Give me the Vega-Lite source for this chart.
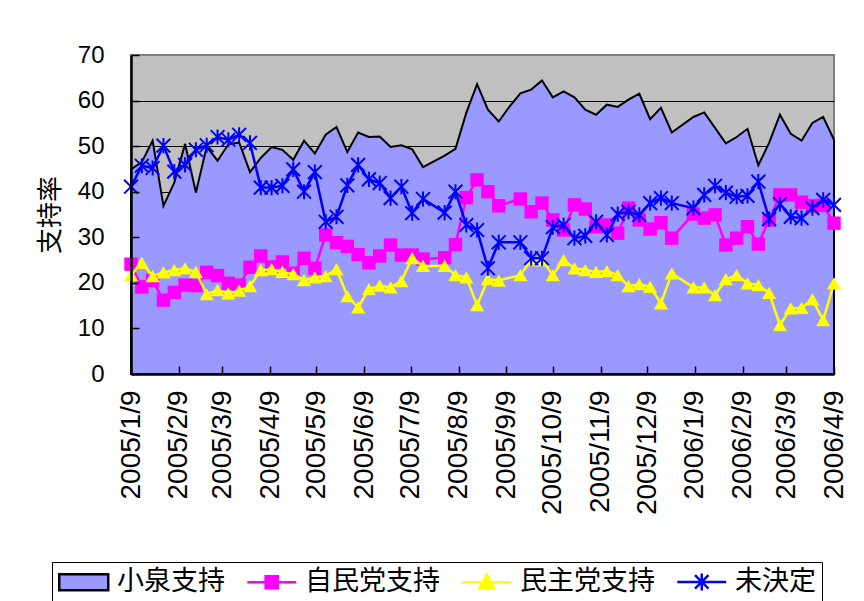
{
  "$schema": "https://vega.github.io/schema/vega-lite/v6.json",
  "width": 703,
  "height": 319,
  "autosize": "none",
  "padding": {"left": 131, "top": 55, "right": 30, "bottom": 227},
  "background": "white",
  "config": {
    "view": {"fill": "#C0C0C0", "stroke": "#808080", "strokeWidth": 2},
    "font": "Liberation Sans",
    "axisY": {
      "titleFont": "Noto Sans CJK JP",
      "titleFontSize": 26,
      "titleFontWeight": "normal",
      "titleColor": "black",
      "titlePadding": 14,
      "labelFont": "Liberation Sans",
      "labelFontSize": 24,
      "labelColor": "black",
      "labelPadding": 35,
      "labelFlush": false,
      "tickSize": -8,
      "tickColor": "black",
      "tickWidth": 1.5,
      "domainColor": "black",
      "domainWidth": 2.5
    },
    "legend": {
      "orient": "none",
      "legendX": -79,
      "legendY": 507,
      "direction": "horizontal",
      "columns": 4,
      "labelFont": "Noto Sans CJK JP",
      "labelFontSize": 27,
      "labelColor": "black",
      "labelOffset": 32,
      "columnPadding": 17,
      "symbolSize": 600,
      "symbolStrokeWidth": 2.5,
      "symbolOpacity": 1,
      "strokeColor": "black",
      "padding": 6
    }
  },
  "data": {
    "values": [
      {"date": "2005-01-09", "小泉支持": 44.9, "自民党支持": 24.1, "民主党支持": 21.7, "未決定": 41.1},
      {"date": "2005-01-16", "小泉支持": 46.5, "自民党支持": 19.1, "民主党支持": 24.4, "未決定": 45.7},
      {"date": "2005-01-23", "小泉支持": 51.2, "自民党支持": 20.5, "民主党支持": 21.5, "未決定": 45.2},
      {"date": "2005-01-30", "小泉支持": 36.9, "自民党支持": 16.2, "民主党支持": 22.3, "未決定": 50.1},
      {"date": "2005-02-06", "小泉支持": 42.0, "自民党支持": 17.9, "民主党支持": 22.8, "未決定": 44.4},
      {"date": "2005-02-13", "小泉支持": 50.5, "自民党支持": 19.5, "民主党支持": 23.2, "未決定": 45.9},
      {"date": "2005-02-20", "小泉支持": 39.8, "自民党支持": 19.4, "民主党支持": 22.4, "未決定": 49.2},
      {"date": "2005-02-27", "小泉支持": 49.9, "自民党支持": 22.3, "民主党支持": 17.5, "未決定": 50.2},
      {"date": "2005-03-06", "小泉支持": 46.8, "自民党支持": 21.6, "民主党支持": 18.4, "未決定": 52.0},
      {"date": "2005-03-13", "小泉支持": 50.4, "自民党支持": 19.9, "民主党支持": 17.7, "未決定": 51.4},
      {"date": "2005-03-20", "小泉支持": 50.8, "自民党支持": 19.5, "民主党支持": 18.3, "未決定": 52.5},
      {"date": "2005-03-27", "小泉支持": 44.3, "自民党支持": 23.4, "民主党支持": 19.3, "未決定": 50.7},
      {"date": "2005-04-03", "小泉支持": 47.4, "自民党支持": 25.9, "民主党支持": 22.8, "未決定": 40.9},
      {"date": "2005-04-10", "小泉支持": 49.8, "自民党支持": 23.5, "民主党支持": 23.0, "未決定": 40.9},
      {"date": "2005-04-17", "小泉支持": 49.2, "自民党支持": 24.6, "民主党支持": 22.4, "未決定": 41.3},
      {"date": "2005-04-24", "小泉支持": 47.0, "自民党支持": 22.1, "民主党支持": 21.9, "未決定": 44.9},
      {"date": "2005-05-01", "小泉支持": 51.2, "自民党支持": 25.4, "民主党支持": 20.6, "未決定": 40.0},
      {"date": "2005-05-08", "小泉支持": 48.4, "自民党支持": 23.2, "民主党支持": 21.2, "未決定": 44.3},
      {"date": "2005-05-15", "小泉支持": 52.5, "自民党支持": 30.5, "民主党支持": 21.5, "未決定": 33.4},
      {"date": "2005-05-22", "小泉支持": 54.2, "自民党支持": 28.8, "民主党支持": 23.0, "未決定": 34.5},
      {"date": "2005-05-29", "小泉支持": 48.7, "自民党支持": 28.0, "民主党支持": 17.1, "未決定": 41.4},
      {"date": "2005-06-05", "小泉支持": 53.0, "自民党支持": 26.2, "民主党支持": 14.6, "未決定": 45.9},
      {"date": "2005-06-12", "小泉支持": 52.0, "自民党支持": 24.4, "民主党支持": 18.6, "未決定": 42.7},
      {"date": "2005-06-19", "小泉支持": 52.1, "自民党支持": 25.9, "民主党支持": 19.4, "未決定": 41.9},
      {"date": "2005-06-26", "小泉支持": 49.8, "自民党支持": 28.3, "民主党支持": 19.0, "未決定": 38.6},
      {"date": "2005-07-03", "小泉支持": 50.2, "自民党支持": 26.1, "民主党支持": 20.4, "未決定": 41.1},
      {"date": "2005-07-10", "小泉支持": 49.3, "自民党支持": 26.1, "民主党支持": 25.4, "未決定": 35.3},
      {"date": "2005-07-17", "小泉支持": 45.4, "自民党支持": 25.2, "民主党支持": 23.7, "未決定": 38.4},
      {"date": "2005-07-31", "小泉支持": 47.9, "自民党支持": 25.5, "民主党支持": 23.7, "未決定": 35.4},
      {"date": "2005-08-07", "小泉支持": 49.4, "自民党支持": 28.4, "民主党支持": 21.7, "未決定": 40.0},
      {"date": "2005-08-14", "小泉支持": 57.3, "自民党支持": 38.7, "民主党支持": 21.2, "未決定": 32.7},
      {"date": "2005-08-21", "小泉支持": 63.6, "自民党支持": 42.6, "民主党支持": 15.1, "未決定": 31.6},
      {"date": "2005-08-28", "小泉支持": 58.0, "自民党支持": 40.0, "民主党支持": 20.8, "未決定": 23.2},
      {"date": "2005-09-04", "小泉支持": 55.4, "自民党支持": 36.9, "民主党支持": 20.5, "未決定": 28.9},
      {"date": "2005-09-11", "小泉支持": 58.7, "自民党支持": null, "民主党支持": null, "未決定": null},
      {"date": "2005-09-18", "小泉支持": 61.6, "自民党支持": 38.4, "民主党支持": 21.7, "未決定": 28.9},
      {"date": "2005-09-25", "小泉支持": 62.4, "自民党支持": 35.6, "民主党支持": 25.0, "未決定": 25.4},
      {"date": "2005-10-02", "小泉支持": 64.4, "自民党支持": 37.5, "民主党支持": 25.0, "未決定": 25.4},
      {"date": "2005-10-09", "小泉支持": 60.7, "自民党支持": 33.8, "民主党支持": 21.7, "未決定": 32.2},
      {"date": "2005-10-16", "小泉支持": 62.0, "自民党支持": 31.6, "民主党支持": 25.0, "未決定": 32.7},
      {"date": "2005-10-23", "小泉支持": 60.7, "自民党支持": 37.1, "民主党支持": 23.2, "未決定": 29.8},
      {"date": "2005-10-30", "小泉支持": 58.0, "自民党支持": 36.2, "民主党支持": 22.8, "未決定": 30.3},
      {"date": "2005-11-06", "小泉支持": 56.9, "自民党支持": 32.3, "民主党支持": 22.4, "未決定": 33.4},
      {"date": "2005-11-13", "小泉支持": 59.1, "自民党支持": 32.7, "民主党支持": 22.6, "未決定": 30.5},
      {"date": "2005-11-20", "小泉支持": 58.6, "自民党支持": 30.9, "民主党支持": 21.7, "未決定": 35.1},
      {"date": "2005-11-27", "小泉支持": 60.2, "自民党支持": 36.4, "民主党支持": 19.3, "未決定": 35.6},
      {"date": "2005-12-04", "小泉支持": 61.5, "自民党支持": 33.8, "民主党支持": 19.7, "未決定": 34.9},
      {"date": "2005-12-11", "小泉支持": 55.9, "自民党支持": 31.8, "民主党支持": 19.1, "未決定": 37.5},
      {"date": "2005-12-18", "小泉支持": 58.4, "自民党支持": 33.2, "民主党支持": 15.5, "未決定": 38.6},
      {"date": "2005-12-25", "小泉支持": 53.0, "自民党支持": 29.8, "民主党支持": 22.1, "未決定": 37.5},
      {"date": "2006-01-08", "小泉支持": 56.4, "自民党支持": 35.1, "民主党支持": 19.0, "未決定": 36.4},
      {"date": "2006-01-15", "小泉支持": 57.4, "自民党支持": 34.2, "民主党支持": 19.0, "未決定": 39.3},
      {"date": "2006-01-22", "小泉支持": 54.0, "自民党支持": 34.9, "民主党支持": 17.3, "未決定": 41.3},
      {"date": "2006-01-29", "小泉支持": 50.6, "自民党支持": 28.3, "民主党支持": 20.8, "未決定": 39.8},
      {"date": "2006-02-05", "小泉支持": 52.0, "自民党支持": 29.8, "民主党支持": 21.7, "未決定": 38.9},
      {"date": "2006-02-12", "小泉支持": 53.8, "自民党支持": 32.3, "民主党支持": 19.9, "未決定": 39.1},
      {"date": "2006-02-19", "小泉支持": 45.8, "自民党支持": 28.5, "民主党支持": 19.5, "未決定": 42.2},
      {"date": "2006-02-26", "小泉支持": 50.7, "自民党支持": 33.8, "民主党支持": 17.8, "未決定": 34.0},
      {"date": "2006-03-05", "小泉支持": 56.9, "自民党支持": 39.3, "民主党支持": 10.7, "未決定": 37.3},
      {"date": "2006-03-12", "小泉支持": 52.7, "自民党支持": 39.3, "民主党支持": 14.4, "未決定": 34.5},
      {"date": "2006-03-19", "小泉支持": 51.2, "自民党支持": 37.7, "民主党支持": 14.5, "未決定": 34.2},
      {"date": "2006-03-26", "小泉支持": 55.1, "自民党支持": 36.9, "民主党支持": 16.4, "未決定": 36.4},
      {"date": "2006-04-02", "小泉支持": 56.4, "自民党支持": 37.0, "民主党支持": 11.8, "未決定": 38.2},
      {"date": "2006-04-09", "小泉支持": 51.4, "自民党支持": 33.1, "民主党支持": 19.9, "未決定": 37.1}
    ]
  },
  "transform": [
    {"fold": ["小泉支持", "自民党支持", "民主党支持", "未決定"], "as": ["series", "value"]},
    {"filter": "isValid(datum.value)"}
  ],
  "layer": [
    {
      "transform": [{"filter": "datum.series === '小泉支持'"}],
      "mark": {"type": "area", "color": "#9999FF", "stroke": "black", "strokeWidth": 2, "fillOpacity": 1},
      "encoding": {
        "x": {
          "field": "date", "type": "temporal",
          "scale": {"type": "utc", "domain": [{"year": 2005, "month": 1, "date": 9, "utc": true}, {"year": 2006, "month": 4, "date": 9, "utc": true}]},
          "axis": {
            "values": [
              {"year": 2005, "month": 1, "date": 9, "utc": true},
              {"year": 2005, "month": 2, "date": 9, "utc": true},
              {"year": 2005, "month": 3, "date": 9, "utc": true},
              {"year": 2005, "month": 4, "date": 9, "utc": true},
              {"year": 2005, "month": 5, "date": 9, "utc": true},
              {"year": 2005, "month": 6, "date": 9, "utc": true},
              {"year": 2005, "month": 7, "date": 9, "utc": true},
              {"year": 2005, "month": 8, "date": 9, "utc": true},
              {"year": 2005, "month": 9, "date": 9, "utc": true},
              {"year": 2005, "month": 10, "date": 9, "utc": true},
              {"year": 2005, "month": 11, "date": 9, "utc": true},
              {"year": 2005, "month": 12, "date": 9, "utc": true},
              {"year": 2006, "month": 1, "date": 9, "utc": true},
              {"year": 2006, "month": 2, "date": 9, "utc": true},
              {"year": 2006, "month": 3, "date": 9, "utc": true},
              {"year": 2006, "month": 4, "date": 9, "utc": true}
            ],
            "format": "%Y/%-m/%-d",
            "labelAngle": -90,
            "labelFontSize": 28,
            "labelFont": "Liberation Sans",
            "labelColor": "black",
            "labelPadding": 24,
            "labelFlush": false,
            "labelOverlap": false,
            "title": null,
            "grid": false,
            "domainColor": "black",
            "domainWidth": 2.5,
            "tickColor": "black",
            "tickWidth": 1.5,
            "tickSize": -8,
            "zindex": 1
          }
        },
        "y": {
          "field": "value", "type": "quantitative",
          "scale": {"domain": [0, 70], "nice": false},
          "axis": {
            "orient": "left",
            "grid": true,
            "gridColor": "black",
            "gridWidth": 1,
            "values": [10, 20, 30, 40, 50, 60],
            "labels": false,
            "ticks": false,
            "domain": false,
            "title": null,
            "zindex": 0
          }
        }
      }
    },
    {
      "transform": [{"filter": "datum.series === '自民党支持'"}],
      "mark": {"type": "line", "color": "#FF00FF", "strokeWidth": 2.5, "point": {"shape": "square", "size": 180, "filled": true, "color": "#FF00FF", "opacity": 1}},
      "encoding": {
        "x": {"field": "date", "type": "temporal"},
        "y": {
          "field": "value", "type": "quantitative",
          "axis": {
            "orient": "left",
            "values": [0, 10, 20, 30, 40, 50, 60, 70],
            "grid": false,
            "zindex": 1,
            "title": "支持率"
          }
        }
      }
    },
    {
      "transform": [{"filter": "datum.series === '民主党支持'"}],
      "mark": {"type": "line", "color": "#FFFF00", "strokeWidth": 2.5, "point": {"shape": "triangle-up", "size": 200, "filled": true, "color": "#FFFF00", "opacity": 1}},
      "encoding": {
        "x": {"field": "date", "type": "temporal"},
        "y": {"field": "value", "type": "quantitative", "axis": null}
      }
    },
    {
      "transform": [{"filter": "datum.series === '未決定'"}],
      "mark": {"type": "line", "color": "#0000FF", "strokeWidth": 2.5, "point": {"shape": "M-1,-1L1,1M1,-1L-1,1M0,-1.1V1.1", "size": 190, "filled": false, "color": "#0000FF", "strokeWidth": 2, "opacity": 1}},
      "encoding": {
        "x": {"field": "date", "type": "temporal"},
        "y": {"field": "value", "type": "quantitative", "axis": null}
      }
    },
    {
      "transform": [{"filter": "false"}],
      "mark": {"type": "point", "filled": true, "opacity": 1},
      "encoding": {
        "x": {"field": "date", "type": "temporal"},
        "y": {"field": "value", "type": "quantitative", "axis": null},
        "fill": {
          "field": "series", "type": "nominal",
          "scale": {"domain": ["小泉支持", "自民党支持", "民主党支持", "未決定"], "range": ["#9999FF", "#FF00FF", "#FFFF00", "#0000FF"]},
          "legend": {"title": null}
        },
        "stroke": {
          "field": "series", "type": "nominal",
          "scale": {"domain": ["小泉支持", "自民党支持", "民主党支持", "未決定"], "range": ["#000000", "#FF00FF", "#FFFF00", "#0000FF"]},
          "legend": {"title": null}
        },
        "shape": {
          "field": "series", "type": "nominal",
          "scale": {"domain": ["小泉支持", "自民党支持", "民主党支持", "未決定"], "range": ["M-1,-0.65H3V0.65H-1Z", "M-1,0H3M0.5,-0.5H1.5V0.5H0.5Z", "M-1,0H3M1,-0.6L1.6,0.5H0.4Z", "M-1,0H3M0.45,-0.55L1.55,0.55M1.55,-0.55L0.45,0.55M1,-0.7V0.7"]},
          "legend": {"title": null}
        }
      }
    }
  ],
  "resolve": {"axis": {"y": "independent"}}
}
